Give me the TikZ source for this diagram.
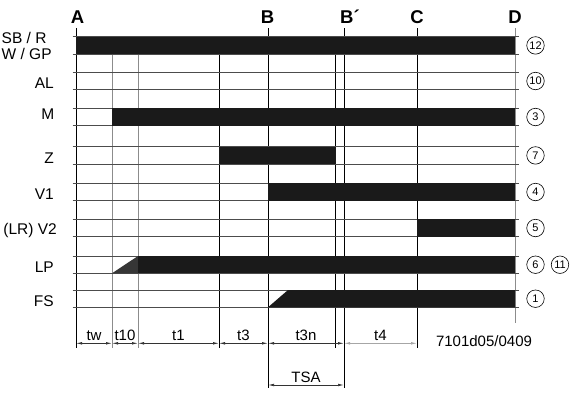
\documentclass[tikz,border=0pt]{standalone}
\usepackage{fontspec}
\setmainfont{Liberation Sans}
\usetikzlibrary{arrows.meta}

\definecolor{barblack}{HTML}{1A1A1A}
\definecolor{rampgray}{HTML}{363636}
\definecolor{gridgray}{HTML}{8C8C8C}

\tikzset{
	rowline/.style={draw=black!70, line width=0.8pt},
	markline/.style={line width=0.8pt},
	num/.style={circle, draw, line width=0.6pt, minimum size=17.5pt, inner sep=0pt,
		font=\fontsize{11}{11}\selectfont}
}

\begin{document}
\begin{tikzpicture}[x=1pt,y=-1pt]
	\useasboundingbox (0,0) rectangle (582,392);

	\begin{scope}[every node/.style={font=\bfseries\fontsize{18.5}{18.5}\selectfont, inner sep=0pt}]
		\node (A) at (77.5,17) {A};
		\node (B) at (267.5,17) {B};
		\node (Bp) at (350,17) {B´};
		\node (C) at (417,17) {C};
		\node (D) at (515,17) {D};
	\end{scope}

	% vertical time marks
	\foreach \n/\x/\ya/\yb/\c in {mA/76/28/348/black, m10/112/54/348/gridgray,
			m1/138/54/348/gridgray, m3/219/54/348/black, mB/268/28/388/black,
			m4/335.5/54/348/black, mBp/344/28/388/black, mC/417/28/348/black,
			mD/515/28/323/gridgray} {
		\coordinate (\n-top) at (\x,\ya);
		\coordinate (\n-bot) at (\x,\yb);
		\draw[markline, \c] (\n-top) -- (\n-bot);
	}

	% signal rows
	\foreach \n/\y/\k in {sb/36.7/12, al/72.3/10, m/108.3/3, z/146.7/7,
			va/183.3/4, vb/219.3/5, lp/256/6, fs/290/1} {
		\coordinate (\n-top) at (0,\y);
		\coordinate (\n-bot) at (0,\y+17.3);
		\draw[rowline] (72.5,\y) -- (519,\y) (72.5,\y+17.3) -- (519,\y+17.3);
		\node[num] (\n-num) at (535.5,\y+8.7) {\k};
	}
	\node[num] (lp-num2) at (560,264.7) {11};

	\fill[barblack] (mA-top |- sb-top) rectangle (mD-top |- sb-bot);
	\fill[barblack] (m10-top |- m-top) rectangle (mD-top |- m-bot);
	\fill[barblack] (m3-top |- z-top) rectangle (m4-top |- z-bot);
	\fill[barblack] (mB-top |- va-top) rectangle (mD-top |- va-bot);
	\fill[barblack] (mC-top |- vb-top) rectangle (mD-top |- vb-bot);
	\fill[rampgray] (m10-top |- lp-bot) -- (m1-top |- lp-top) -- (m1-top |- lp-bot) -- cycle;
	\fill[barblack] (m1-top |- lp-top) rectangle (mD-top |- lp-bot);
	\fill[barblack] (mB-top |- fs-bot) -- ([xshift=20pt]mB-top |- fs-top)
		-- (mD-top |- fs-top) -- (mD-top |- fs-bot) -- cycle;

	\begin{scope}[every node/.style={font=\fontsize{15.5}{16}\selectfont, anchor=east, inner sep=0pt}]
		\node[anchor=west, align=left] (sb-lab) at (1.5,45.5) {SB / R\\W / GP};
		\node (al-lab) at (54,82.7) {AL};
		\node (m-lab) at (54.5,114) {M};
		\node (z-lab) at (54,158) {Z};
		\node (va-lab) at (54,194) {V1};
		\node (vb-lab) at (57,230) {(LR) V2};
		\node (lp-lab) at (54,267) {LP};
		\node (fs-lab) at (54,301) {FS};
	\end{scope}

	% durations
	\coordinate (dim) at (0,343.3);
	\coordinate (tsa) at (0,385);
	\begin{scope}[>={Latex[length=6pt,width=2.6pt]},
			every node/.style={font=\fontsize{15}{15}\selectfont, above, inner sep=2.5pt},
			every edge/.style={draw=black!80, line width=0.7pt}]
		\path [<->] (mA-top |- dim) edge node {tw} (m10-top |- dim);
		\path [<->] (m10-top |- dim) edge node {t10} (m1-top |- dim);
		\path [<->] (m1-top |- dim) edge node {t1} (m3-top |- dim);
		\path [<->] (m3-top |- dim) edge node {t3} (mB-top |- dim);
		\path [<->] (mB-top |- dim) edge node {t3n} (mBp-top |- dim);
		\path [<->] (mBp-top |- dim) edge[draw=black!35] node {t4} (mC-top |- dim);
		\path [<->] (mB-top |- tsa) edge node {TSA} (mBp-top |- tsa);
	\end{scope}
	\node[font=\fontsize{15}{15}\selectfont, inner sep=0pt] (code) at (484,341) {7101d05/0409};

\end{tikzpicture}
\end{document}
